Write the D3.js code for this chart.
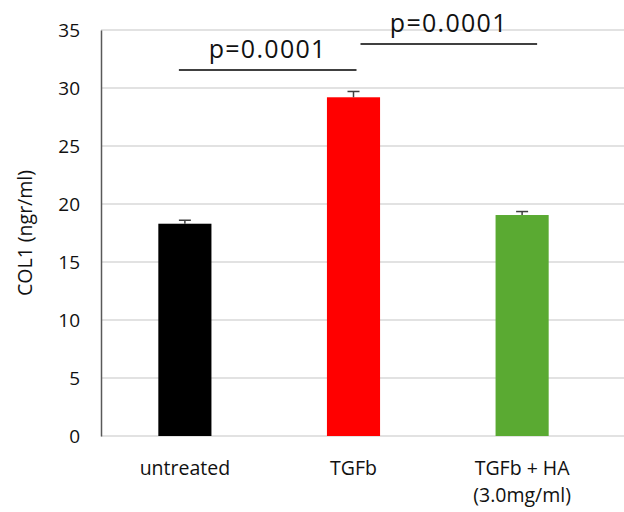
<!DOCTYPE html>
<html lang="en">
  <meta charset="UTF-8" />
  <title>COL1</title>
  <style>
    body { margin: 0; background: #fff; }
    text { font-family: "Open Sans", sans-serif; fill: #111; }
  </style>
  <script src="https://d3js.org/d3.v7.min.js"></script>
  <body>
    <div id="chart"></div>
    <script>
      // values
      const groups = ["untreated", "TGFb", "TGFb + HA|(3.0mg/ml)"];
      const means = [18.3, 29.2, 19.05];
      const errors = [0.3, 0.5, 0.3];
      const barColors = ["#000000", "#ff0000", "#5aaa32"];
      const yTicks = [0, 5, 10, 15, 20, 25, 30, 35];
      // p-value brackets: from group, to group, level
      const pFrom = [0, 1];
      const pTo = [1, 2];
      const pLevel = [31.55, 33.8];
      const pText = ["p=0.0001", "p=0.0001"];

      var width = 624, height = 512;
      var mLeft = 101, mRight = 606, mTop = 30, mBottom = 436;

      var svg = d3.select("#chart").append("svg")
        .attr("width", width).attr("height", height);

      var x = d3.scaleBand().domain(d3.range(groups.length)).range([mLeft, mRight]).paddingInner(0.685).paddingOuter(0.34);
      var y = d3.scaleLinear().domain([0, 35]).range([mBottom, mTop]);

      // gridlines
      svg.append("g").selectAll("line").data(yTicks.filter(d => d > 0)).enter().append("line")
        .attr("x1", mLeft).attr("x2", width)
        .attr("y1", d => y(d)).attr("y2", d => y(d))
        .attr("stroke", "#d9d9d9").attr("stroke-width", 1.5);
      svg.append("line").attr("x1", mLeft).attr("x2", width)
        .attr("y1", y(0)).attr("y2", y(0))
        .attr("stroke", "#d9d9d9").attr("stroke-width", 1.5);

      // y axis
      var yAxis = svg.append("g").attr("transform", "translate(" + mLeft + ",0)")
        .call(d3.axisLeft(y).tickValues(yTicks).tickSize(0).tickPadding(21));
      yAxis.select(".domain").attr("stroke", "#595959").attr("stroke-width", 1.5);
      yAxis.selectAll("text").style("font-size", "19px").style("font-family", "'Open Sans', sans-serif").attr("fill", "#111");

      svg.append("text")
        .attr("transform", "translate(32," + (mTop + mBottom) / 2 + ") rotate(-90)")
        .attr("text-anchor", "middle")
        .style("font-size", "19.5px")
        .text("COL1 (ngr/ml)");

      // bars
      svg.append("g").selectAll("rect").data(means).enter().append("rect")
        .attr("x", (d, i) => x(i)).attr("width", x.bandwidth())
        .attr("y", d => y(d)).attr("height", d => y(0) - y(d))
        .attr("fill", (d, i) => barColors[i]);

      // error bars
      var eb = svg.append("g").attr("stroke", "#404040").attr("stroke-width", 1.5);
      means.forEach((m, i) => {
        var cx = x(i) + x.bandwidth() / 2;
        eb.append("line").attr("x1", cx).attr("x2", cx).attr("y1", y(m)).attr("y2", y(m + errors[i]));
        eb.append("line").attr("x1", cx - 6).attr("x2", cx + 6).attr("y1", y(m + errors[i])).attr("y2", y(m + errors[i]));
      });

      // category labels
      var xl = svg.append("g");
      groups.forEach((g, i) => {
        var t = xl.append("text").attr("text-anchor", "middle")
          .attr("x", x(i) + x.bandwidth() / 2).attr("y", 475)
          .style("font-size", "19.5px");
        g.split("|").forEach((part, j) => {
          t.append("tspan").attr("x", x(i) + x.bandwidth() / 2).attr("dy", j ? 27 : 0).text(part);
        });
      });

      // p-value brackets
      pFrom.forEach((f, k) => {
        var x1 = x(f) + x.bandwidth() / 2 - 6;
        var x2 = x(pTo[k]) + x.bandwidth() / 2 + 3;
        if (k == 1) { x1 = x(f) + x.bandwidth() / 2 + 7; x2 = x(pTo[k]) + x.bandwidth() / 2 + 15; }
        svg.append("line").attr("x1", x1).attr("x2", x2)
          .attr("y1", y(pLevel[k])).attr("y2", y(pLevel[k]))
          .attr("stroke", "#404040").attr("stroke-width", 2);
        svg.append("text").attr("text-anchor", "middle")
          .attr("x", (x1 + x2) / 2).attr("y", y(pLevel[k]) - 12)
          .style("font-size", "25px").style("letter-spacing", "1.3px")
          .text(pText[k]);
      });
    </script>
  </body>
</html>
